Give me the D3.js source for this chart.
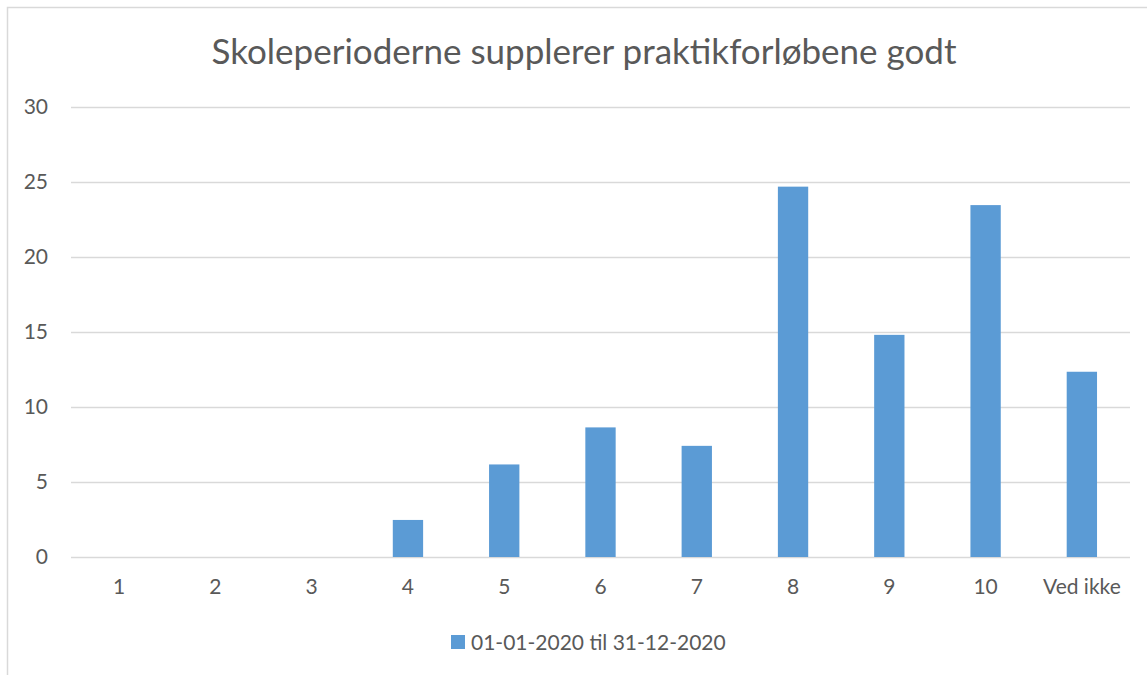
<!DOCTYPE html>
<html>
<head>
<meta charset="utf-8">
<script src="https://cdn.jsdelivr.net/npm/d3@7/dist/d3.min.js"></script>
<style>
  html, body { margin: 0; padding: 0; background: #ffffff; }
  svg { display: block; }
  text { font-family: Lato, "Open Sans", sans-serif; fill: #595959; }
</style>
</head>
<body>
<svg id="chart" width="1147" height="675"></svg>
<script>
const categories = ["1", "2", "3", "4", "5", "6", "7", "8", "9", "10", "Ved ikke"];
const values = [0, 0, 0, 2.47, 6.17, 8.64, 7.41, 24.69, 14.81, 23.46, 12.35];
const yTicks = [0, 5, 10, 15, 20, 25, 30];
const seriesName = "01-01-2020 til 31-12-2020";
const title = "Skoleperioderne supplerer praktikforløbene godt";

const svg = d3.select("#chart");
const W = 1147, H = 675;
const plot = { left: 71, right: 1130, top: 107, bottom: 557 };

// outer chart border (extends beyond the image on right/bottom)
svg.append("rect")
  .attr("x", 7.5).attr("y", 7.5)
  .attr("width", W + 10).attr("height", H + 10)
  .attr("fill", "none").attr("stroke", "#d9d9d9").attr("stroke-width", 1.5);

const x = d3.scaleBand()
  .domain(categories)
  .range([plot.left, plot.right])
  .paddingInner(0.685)
  .paddingOuter(0.3425);

const y = d3.scaleLinear()
  .domain([0, 30])
  .range([plot.bottom, plot.top]);

// title
svg.append("text")
  .attr("x", 584)
  .attr("y", 64)
  .attr("text-anchor", "middle")
  .style("font-size", "35px")
  .text(title);

// gridlines + y labels via axis
const yAxis = d3.axisLeft(y)
  .tickValues(yTicks)
  .tickSize(-(plot.right - plot.left))
  .tickPadding(23)
  .tickFormat(d3.format("d"));

const gy = svg.append("g")
  .attr("transform", `translate(${plot.left},0)`)
  .call(yAxis);
gy.select(".domain").remove();
gy.selectAll(".tick line").attr("stroke", "#d9d9d9").attr("stroke-width", 1.5);
gy.selectAll(".tick text")
  .style("font-size", "21px")
  .style("font-family", "Lato, 'Open Sans', sans-serif")
  .attr("fill", "#595959");

// bars
svg.append("g")
  .selectAll("rect")
  .data(values)
  .join("rect")
  .attr("x", (d, i) => x(categories[i]))
  .attr("width", x.bandwidth())
  .attr("y", d => y(d))
  .attr("height", d => y(0) - y(d))
  .attr("fill", "#5b9bd5");

// x axis labels
const xAxis = d3.axisBottom(x).tickSize(0).tickPadding(22);
const gx = svg.append("g")
  .attr("transform", `translate(0,${plot.bottom})`)
  .call(xAxis);
gx.select(".domain").remove();
gx.selectAll(".tick text")
  .style("font-size", "21px")
  .style("font-family", "Lato, 'Open Sans', sans-serif")
  .attr("fill", "#595959");

// legend
const lg = svg.append("g").attr("transform", "translate(451,635)");
lg.append("rect").attr("width", 14).attr("height", 14).attr("fill", "#5b9bd5");
lg.append("text")
  .attr("x", 20).attr("y", 14.5)
  .style("font-size", "21px")
  .text(seriesName);
</script>
</body>
</html>
